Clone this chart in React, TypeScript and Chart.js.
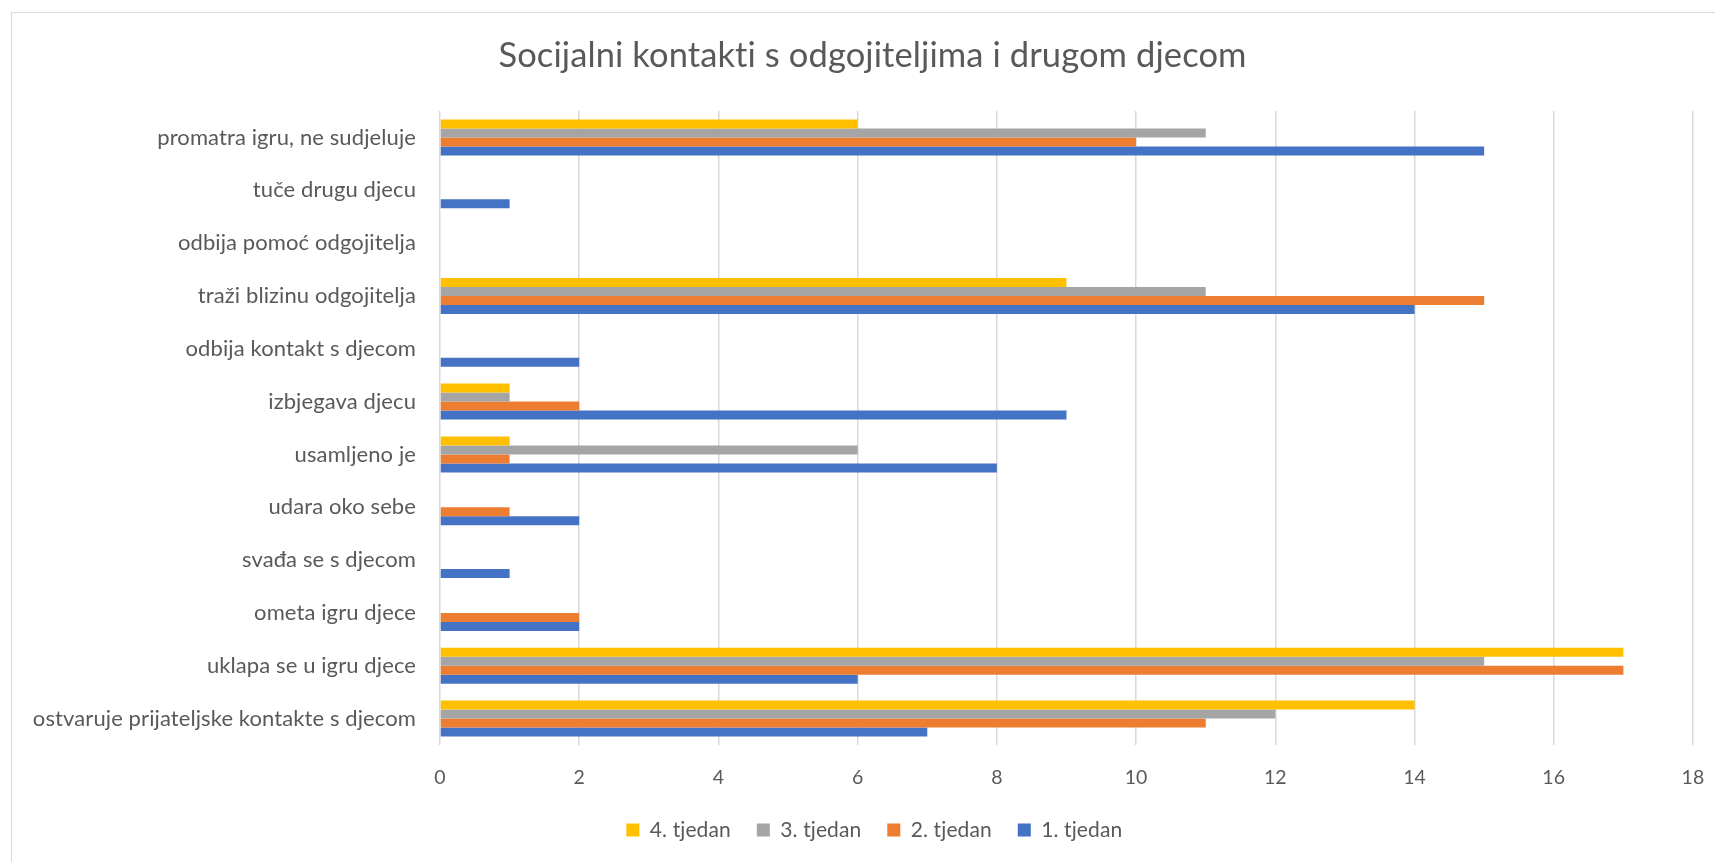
import React, { useEffect, useRef } from "react";
import { Chart, registerables } from "chart.js";

Chart.register(...registerables);

const categories = [
  "promatra igru, ne sudjeluje",
  "tuče drugu djecu",
  "odbija pomoć odgojitelja",
  "traži blizinu odgojitelja",
  "odbija kontakt s djecom",
  "izbjegava djecu",
  "usamljeno je",
  "udara oko sebe",
  "svađa se s djecom",
  "ometa igru djece",
  "uklapa se u igru djece",
  "ostvaruje prijateljske kontakte s djecom",
];

const week4 = [6, 0, 0, 9, 0, 1, 1, 0, 0, 0, 17, 14];
const week3 = [11, 0, 0, 11, 0, 1, 6, 0, 0, 0, 15, 12];
const week2 = [10, 0, 0, 15, 0, 2, 1, 1, 0, 2, 17, 11];
const week1 = [15, 1, 0, 14, 2, 9, 8, 2, 1, 2, 6, 7];

const seriesNames = ["4. tjedan", "3. tjedan", "2. tjedan", "1. tjedan"];
const seriesColors = ["#FFC000", "#A5A5A5", "#ED7D31", "#4472C4"];
const xTicks = { min: 0, max: 18, step: 2 };

const chartTitle = "Socijalni kontakti s odgojiteljima i drugom djecom";

const FONT = "Lato";
const TEXT = "#595959";

const noLigatures = {
  id: "noLigatures",
  beforeInit(chart: any) {
    try {
      chart.ctx.letterSpacing = "0.1px";
    } catch (e) {}
  },
  beforeDraw(chart: any) {
    try {
      chart.ctx.letterSpacing = "0.1px";
    } catch (e) {}
  },
};

export default function App() {
  const ref = useRef<HTMLCanvasElement | null>(null);

  useEffect(() => {
    if (!ref.current) return;
    const datasets = [week4, week3, week2, week1].map((d, i) => ({
      label: seriesNames[i],
      data: d,
      backgroundColor: seriesColors[i],
      borderWidth: 0,
      categoryPercentage: 0.68,
      barPercentage: 1,
    }));
    const titleSize = 34.5;
    const labelSize = 22;
    const tickSize = 19.5;
    const legSize = 21;
    const legPad = 26;
    const chart = new Chart(ref.current, {
      type: "bar",
      data: { labels: categories, datasets },
      plugins: [noLigatures],
      options: {
        indexAxis: "y",
        animation: false,
        responsive: false,
        maintainAspectRatio: false,
        layout: { padding: { top: 0, left: 0, right: 0, bottom: 862 - (830 + legSize / 2 + 10) } },
        plugins: {
          title: {
            display: true,
            text: chartTitle,
            color: TEXT,
            font: { family: FONT, size: titleSize, weight: "normal" },
            padding: { top: 56 - 0.6 * titleSize, bottom: 111 - 56 - 0.6 * titleSize },
          },
          legend: {
            position: "bottom",
            labels: {
              color: TEXT,
              font: { family: FONT, size: legSize },
              boxWidth: 13,
              boxHeight: 13,
              padding: legPad,
            },
          },
          tooltip: { enabled: false },
        },
        scales: {
          x: {
            min: xTicks.min,
            max: xTicks.max,
            ticks: { stepSize: xTicks.step, color: TEXT, font: { family: FONT, size: tickSize }, padding: 778 - 745 - 0.6 * tickSize },
            grid: { color: "#d9d9d9", lineWidth: 1.5, drawTicks: false },
            border: { display: false },
            afterFit: (s: any) => {
              s.height = 830 - legPad - legSize / 2 - 745;
            },
          },
          y: {
            ticks: { color: TEXT, font: { family: FONT, size: labelSize }, padding: 24 },
            grid: { display: false, drawTicks: false },
            border: { display: false },
            afterFit: (s: any) => {
              s.width = 440;
            },
          },
          yR: {
            type: "linear",
            position: "right",
            display: true,
            ticks: { display: false },
            grid: { display: false, drawTicks: false },
            border: { display: false },
            afterFit: (s: any) => {
              s.width = 52;
            },
          },
        },
      },
    } as any);
    return () => chart.destroy();
  }, []);

  return (
    <div style={{ position: "fixed", left: 0, top: 0, width: 1715, height: 862, overflow: "hidden", background: "#fff" }}>
      <div style={{ position: "absolute", left: 11, top: 12, width: 1780, height: 920, border: "1px solid #d9d9d9" }} />
      <canvas ref={ref} width={1745} height={862} style={{ position: "absolute", left: 0, top: 0, width: 1745, height: 862 }} />
    </div>
  );
}
